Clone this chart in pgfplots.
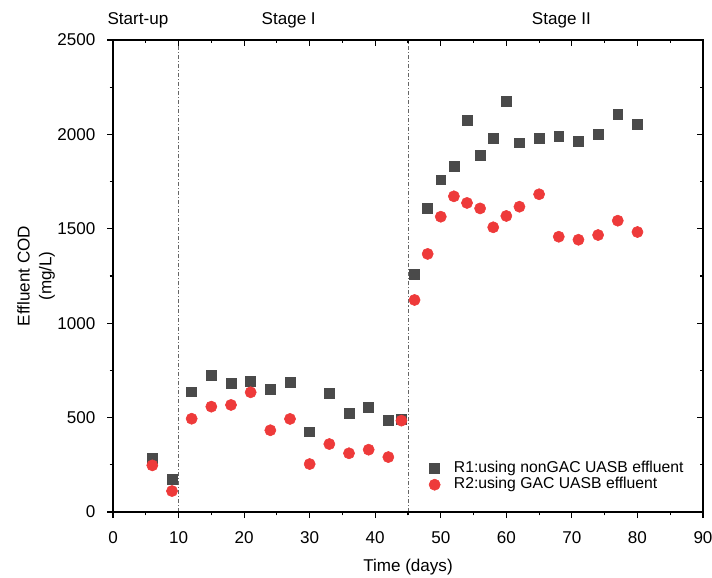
\documentclass[border=0pt]{standalone}
\usepackage{pgfplots}
\pgfplotsset{compat=1.18}
\usepackage{fontspec}
\setmainfont{Liberation Sans}
\definecolor{sqgray}{RGB}{74,74,74}
\definecolor{cred}{RGB}{238,58,58}
\newcommand{\fs}{\fontsize{12.8}{15.8}\selectfont}
\pgfplotsset{
  common/.style={
    scale only axis, width=442.5pt, height=354pt,
    xmin=0, xmax=90, ymin=0, ymax=2500,
    xtick={0,10,...,90}, ytick={0,500,...,2500},
    minor x tick num=1, minor y tick num=1,
    major tick length=4.5pt, minor tick length=2.6pt,
    axis line style={line width=1.1pt},
    every tick/.style={line width=0.9pt, black},
    clip=false,
  }
}
\begin{document}
\fs
\begin{tikzpicture}
\path[use as bounding box] (-84.75pt,-48.75pt) rectangle (449.25pt,384pt);
\pgfplotstableread{
x y
6 285
9 172
12 637
15 722
18 681
21 692
24 650
27 688
30 425
33 628
36 521
39 556
42 487
44 489
46 1259
48 1608
50 1760
52 1833
54 2075
56 1889
58 1981
60 2175
62 1956
65 1979
68 1991
71 1962
74 2002
77 2105
80 2052
}\rone
\pgfplotstableread{
x y
6 247
9 111
12 494
15 558
18 567
21 634
24 433
27 493
30 254
33 360
36 311
39 330
42 291
44 484
46 1123
48 1367
50 1564
52 1672
54 1637
56 1608
58 1508
60 1568
62 1617
65 1683
68 1458
71 1442
74 1467
77 1543
80 1483
}\rtwo
\begin{axis}[common,
  tick align=outside, xtick pos=bottom, ytick pos=left,
  /pgf/number format/assume math mode=true,
  /pgf/number format/set thousands separator={},
  ticklabel style={font=\fs},
  xticklabel style={anchor=center, yshift=-14.5pt},
  yticklabel style={anchor=east, xshift=-4.25pt},
  xlabel={Time (days)},
  xlabel style={at={(axis description cs:0.5,0)}, anchor=center, yshift=-41.25pt, font=\fs},
  ylabel={Effluent COD\\(mg/L)},
  ylabel style={at={(axis description cs:0,0.5)}, anchor=center, yshift=57.75pt, align=center, font=\fontsize{12.8}{16.3}\selectfont},
  legend style={draw=none, fill=none, at={(0.525,0.04)}, anchor=south west,
    font=\fontsize{11.8}{14}\selectfont, row sep=0pt, inner sep=0pt,
    nodes={inner sep=0pt, text height=9.3pt, text depth=2.9pt}},
  legend cell align=left,
  legend image code/.code={\draw[#1] plot coordinates {(0.3cm,0cm)}; \path (0cm,0cm) (0.8cm,0cm);},
]
\addplot[only marks, mark=square*, mark size=3.7pt, color=sqgray] table {\rone};
\addlegendentry{R1:using nonGAC UASB effluent}
\addplot[only marks, mark=*, mark size=4.2pt, color=cred] table {\rtwo};
\addlegendentry{R2:using GAC UASB effluent}
\addplot[gray!80!black, line width=0.4pt, dash pattern=on 3pt off 1.5pt on 0.8pt off 1.5pt, forget plot] coordinates {(10,0) (10,2500)};
\addplot[gray!80!black, line width=0.4pt, dash pattern=on 3pt off 1.5pt on 0.8pt off 1.5pt, forget plot] coordinates {(45,0) (45,2500)};
\node at (axis cs:3.8,2500) [anchor=base, yshift=11.25pt] {Start-up};
\node at (axis cs:26.8,2500) [anchor=base, yshift=11.25pt] {Stage I};
\node at (axis cs:68.4,2500) [anchor=base, yshift=11.25pt] {Stage II};
\end{axis}
\begin{axis}[common,
  tick align=inside, xtick pos=top, ytick pos=right,
  xticklabels={}, yticklabels={},
]
\end{axis}
\end{tikzpicture}
\end{document}
